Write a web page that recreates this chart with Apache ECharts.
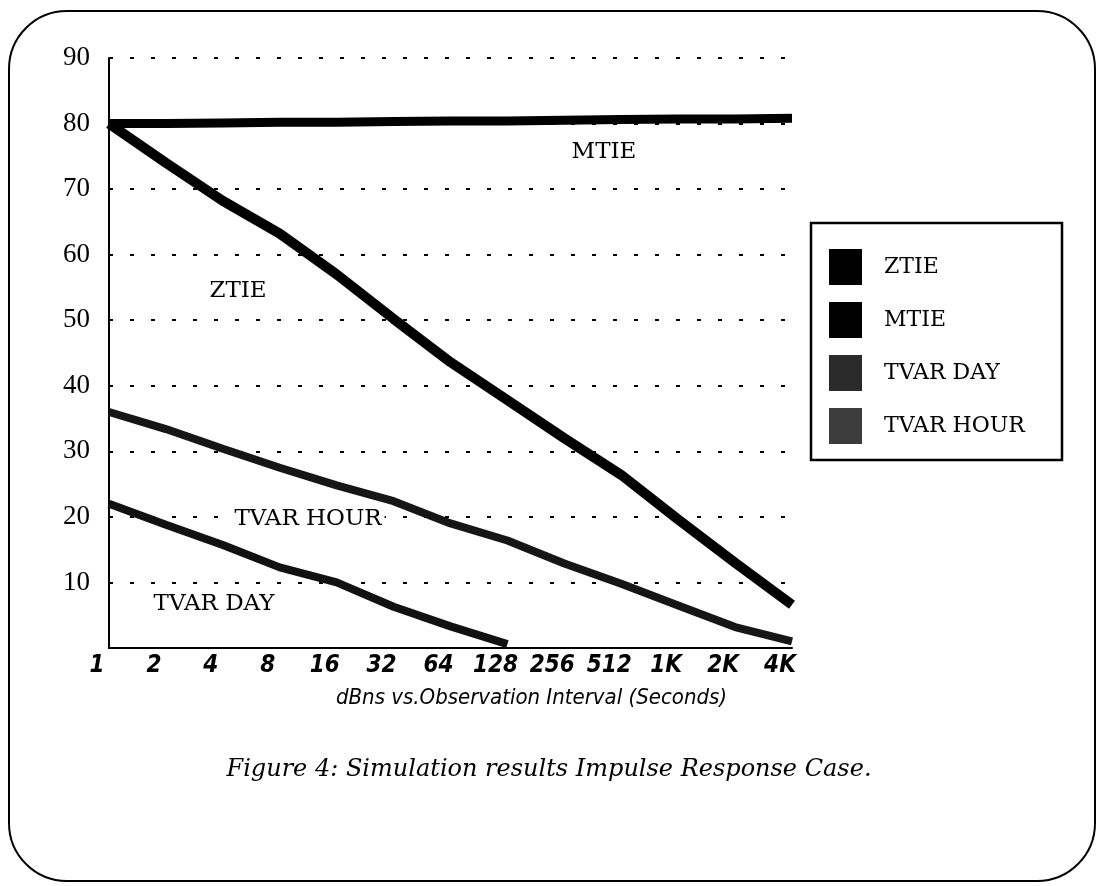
<!DOCTYPE html>
<html><head><meta charset="utf-8">
<script src="https://cdn.jsdelivr.net/npm/echarts@6/dist/echarts.min.js"></script>
<style>html,body{margin:0;padding:0;background:#fff}#c{width:1098px;height:886px}</style>
</head><body><div id="c"></div><script>
// ---- data ----
const xLabels = ['1','2','4','8','16','32','64','128','256','512','1K','2K','4K'];
const ztie     = [80, 74, 68.2, 63.2, 57, 50.2, 43.6, 37.8, 32, 26.4, 19.6, 13.0, 6.6];
const mtie     = [80, 80, 80.1, 80.2, 80.2, 80.3, 80.4, 80.4, 80.5, 80.6, 80.7, 80.7, 80.8];
const tvarDay  = [22, 18.8, 15.7, 12.3, 10.0, 6.3, 3.3, 0.6, null, null, null, null, null];
const tvarHour = [36, 33.4, 30.4, 27.5, 24.8, 22.4, 19.0, 16.4, 12.9, 9.8, 6.5, 3.2, 1.0];
const seriesNames = ['ZTIE', 'MTIE', 'TVAR DAY', 'TVAR HOUR'];
const xAxisTitle = 'dBns vs.Observation Interval (Seconds)';
const caption = 'Figure 4: Simulation results Impulse Response Case.';

const chart = echarts.init(document.getElementById('c'), null, {renderer: 'canvas'});
const serif = "'DejaVu Serif', 'Liberation Serif', serif";
const narrow = "'Liberation Sans Narrow', 'DejaVu Sans Condensed', 'Liberation Sans', sans-serif";

function annot(text, x, y, bg) {
  return {
    type: 'text', x: x, y: y, z: 50,
    style: {
      text: text, fill: '#000', font: "23px " + serif,
      align: 'center', verticalAlign: 'middle',
      backgroundColor: bg ? '#fff' : null, padding: bg ? [0, 3] : 0
    }
  };
}

chart.setOption({
  animation: false,
  backgroundColor: '#fff',
  title: {
    text: caption, left: 'center', top: 753,
    textStyle: {fontFamily: serif, fontStyle: 'italic', fontWeight: 'normal', fontSize: 24, color: '#000'}
  },
  grid: {left: 109, right: 306, top: 58, bottom: 238},
  xAxis: {
    type: 'category', data: xLabels, boundaryGap: false,
    axisLine: {lineStyle: {color: '#000', width: 2}},
    axisTick: {show: false},
    axisLabel: {
      color: '#000', fontFamily: narrow, fontStyle: 'italic', fontWeight: 'bold', fontSize: 24,
      margin: 6, padding: [0, 24, 0, 0], interval: 0
    },
    name: xAxisTitle, nameLocation: 'middle', nameGap: 39,
    nameTextStyle: {color: '#000', fontFamily: narrow, fontStyle: 'italic', fontSize: 22, padding: [0, 0, 0, 162]}
  },
  yAxis: {
    type: 'value', min: 0, max: 90, interval: 10,
    axisLine: {show: true, lineStyle: {color: '#000', width: 2}},
    axisTick: {show: false},
    axisLabel: {
      color: '#000', fontFamily: "'Liberation Serif', serif", fontSize: 27, margin: 19,
      formatter: v => v === 0 ? '' : String(v)
    },
    splitLine: {show: true, lineStyle: {color: '#000', width: 2, type: [4, 17]}}
  },
  legend: {
    orient: 'vertical', left: 824, top: 244,
    icon: 'rect', itemWidth: 33, itemHeight: 36, itemGap: 17,
    textStyle: {fontFamily: serif, fontSize: 22, color: '#000', padding: [0, 0, 0, 17]},
    data: [
      {name: 'ZTIE', itemStyle: {color: '#000'}},
      {name: 'MTIE', itemStyle: {color: '#000'}},
      {name: 'TVAR DAY', itemStyle: {color: '#2b2b2b'}},
      {name: 'TVAR HOUR', itemStyle: {color: '#3c3c3c'}}
    ]
  },
  graphic: [
    {type: 'rect', z: 0, shape: {x: 9, y: 11, width: 1086, height: 870, r: 58},
     style: {fill: 'none', stroke: '#000', lineWidth: 2}},
    {type: 'rect', z: 0, shape: {x: 811, y: 223, width: 251, height: 237},
     style: {fill: 'none', stroke: '#000', lineWidth: 2.5}},
    annot('MTIE', 604, 152, false),
    annot('ZTIE', 238, 291, false),
    annot('TVAR HOUR', 308, 519, true),
    annot('TVAR DAY', 214, 604, false)
  ],
  series: [
    {name: seriesNames[0], type: 'line', data: ztie, symbol: 'none', color: '#000',
     lineStyle: {width: 10, color: '#000'}, z: 5},
    {name: seriesNames[1], type: 'line', data: mtie, symbol: 'none', color: '#000',
     lineStyle: {width: 9, color: '#000'}, z: 5},
    {name: seriesNames[2], type: 'line', data: tvarDay, symbol: 'none', color: '#111',
     lineStyle: {width: 8, color: '#111'}, z: 4},
    {name: seriesNames[3], type: 'line', data: tvarHour, symbol: 'none', color: '#161616',
     lineStyle: {width: 8, color: '#161616'}, z: 4}
  ]
});
</script></body></html>
